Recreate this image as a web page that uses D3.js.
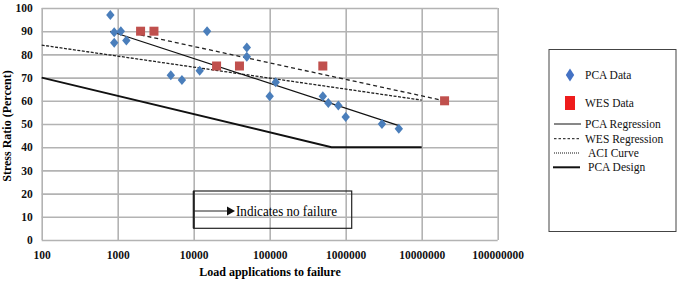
<!DOCTYPE html>
<html>
<head>
<meta charset="utf-8">
<script src="https://cdn.jsdelivr.net/npm/d3@7"></script>
<style>
  body { margin: 0; background: #fff; }
</style>
</head>
<body>
<div id="container"></div>
<script>
/* DATA */
const xTicks = [100, 1000, 10000, 100000, 1000000, 10000000, 100000000];
const yTicks = [0, 10, 20, 30, 40, 50, 60, 70, 80, 90, 100];

// PCA test data (load applications, stress ratio)
const pcaLoads  = [800, 900, 900, 1100, 1300, 5000, 7000, 12000, 15000, 50000, 50000, 100000, 120000, 500000, 590000, 800000, 1000000, 3000000, 5000000];
const pcaRatios = [97, 89.5, 85, 90, 86, 71, 69, 73, 90, 83, 79, 62, 68, 62, 59, 58, 53, 50, 48];

// WES test data
const wesLoads  = [2000, 3000, 20000, 40000, 500000, 20000000];
const wesRatios = [90, 90, 75, 75, 75, 60];

// lines
const pcaRegLoads = [800, 5000000],   pcaRegRatios = [90, 49.3];
const wesRegLoads = [2000, 20000000], wesRegRatios = [88.4, 60];
const aciLoads    = [100, 10000000],  aciRatios    = [84, 60.3];
const designLoads = [100, 650000, 10000000], designRatios = [70, 40, 40];

const legendLabels = ["PCA Data", "WES Data", "PCA Regression", "WES Regression", "ACI Curve", "PCA Design"];

/* SETUP */
const width = 685, height = 283;
const plot = {left: 41.7, right: 497.7, top: 8, bottom: 240};
const serif = "'Liberation Serif'";

const svg = d3.select("#container").append("svg")
  .attr("width", width).attr("height", height);

const xScale = d3.scaleLog().domain([100, 100000000]).range([plot.left, plot.right]);
const yScale = d3.scaleLinear().domain([0, 100]).range([plot.bottom, plot.top]);

const gridColor = "#b3b3b3";

// gridlines
svg.append("g")
  .attr("transform", `translate(0,${plot.bottom})`)
  .call(d3.axisBottom(xScale).tickValues(xTicks).tickSize(-(plot.bottom - plot.top)).tickFormat(""))
  .call(g => g.select(".domain").remove())
  .call(g => g.selectAll("line").attr("stroke", gridColor).attr("stroke-width", 1.6));

svg.append("g")
  .attr("transform", `translate(${plot.left},0)`)
  .call(d3.axisLeft(yScale).tickValues(yTicks).tickSize(-(plot.right - plot.left)).tickFormat(""))
  .call(g => g.select(".domain").remove())
  .call(g => g.selectAll("line").attr("stroke", gridColor).attr("stroke-width", 1.6));

// tick labels
svg.append("g")
  .attr("transform", `translate(0,${plot.bottom + 8})`)
  .call(d3.axisBottom(xScale).tickValues(xTicks).tickSize(0).tickFormat(d3.format("d")))
  .call(g => g.select(".domain").remove())
  .call(g => g.selectAll("text")
    .style("font-family", serif).attr("font-weight", "bold")
    .attr("font-size", 11.5).attr("fill", "#111"));

svg.append("g")
  .attr("transform", `translate(${plot.left - 6},0)`)
  .call(d3.axisLeft(yScale).tickValues(yTicks).tickSize(0))
  .call(g => g.select(".domain").remove())
  .call(g => g.selectAll("text")
    .style("font-family", serif).attr("font-weight", "bold")
    .attr("font-size", 11.5).attr("fill", "#111"));

// axis titles
svg.append("text")
  .attr("x", 270).attr("y", 276)
  .attr("text-anchor", "middle")
  .style("font-family", serif)
  .attr("font-weight", "bold").attr("font-size", 12)
  .text("Load applications to failure");

svg.append("text")
  .attr("transform", "translate(11,126) rotate(-90)")
  .attr("text-anchor", "middle")
  .style("font-family", serif)
  .attr("font-weight", "bold").attr("font-size", 12)
  .text("Stress Ratio (Percent)");

// lines
const line = d3.line().x(d => xScale(d[0])).y(d => yScale(d[1]));

svg.append("path")
  .datum(d3.zip(designLoads, designRatios))
  .attr("d", line).attr("fill", "none").attr("stroke", "#111").attr("stroke-width", 2);

svg.append("path")
  .datum(d3.zip(aciLoads, aciRatios))
  .attr("d", line).attr("fill", "none").attr("stroke", "#222").attr("stroke-width", 1.3)
  .attr("stroke-dasharray", "3,1.5");

svg.append("path")
  .datum(d3.zip(wesRegLoads, wesRegRatios))
  .attr("d", line).attr("fill", "none").attr("stroke", "#222").attr("stroke-width", 1.3)
  .attr("stroke-dasharray", "4,3");

svg.append("path")
  .datum(d3.zip(pcaRegLoads, pcaRegRatios))
  .attr("d", line).attr("fill", "none").attr("stroke", "#111").attr("stroke-width", 1.2);

// markers
const diamond = "M0,-5L4.2,0L0,5L-4.2,0Z";

svg.selectAll("path.pca")
  .data(d3.zip(pcaLoads, pcaRatios))
  .join("path")
  .attr("class", "pca")
  .attr("d", diamond)
  .attr("transform", d => `translate(${xScale(d[0])},${yScale(d[1])})`)
  .attr("fill", "#4a7ebb");

svg.selectAll("rect.wes")
  .data(d3.zip(wesLoads, wesRatios))
  .join("rect")
  .attr("class", "wes")
  .attr("x", d => xScale(d[0]) - 4.5)
  .attr("y", d => yScale(d[1]) - 4.5)
  .attr("width", 9).attr("height", 9)
  .attr("fill", "#c0504d");

// "indicates no failure" box
const note = svg.append("g");
note.append("rect")
  .attr("x", xScale(10000)).attr("y", 191)
  .attr("width", 351.7 - xScale(10000)).attr("height", 37.3)
  .attr("fill", "none").attr("stroke", "#222").attr("stroke-width", 1.2);
note.append("line")
  .attr("x1", xScale(10000)).attr("x2", xScale(10000))
  .attr("y1", 191).attr("y2", 228.3)
  .attr("stroke", "#222").attr("stroke-width", 2);
note.append("line")
  .attr("x1", xScale(10000)).attr("x2", 228)
  .attr("y1", 211).attr("y2", 211)
  .attr("stroke", "#222").attr("stroke-width", 1);
note.append("path")
  .attr("d", "M227,206.5L235,211L227,215.5Z")
  .attr("fill", "#111");
note.append("text")
  .attr("x", 236).attr("y", 216)
  .style("font-family", serif)
  .attr("font-size", 15)
  .attr("textLength", 101).attr("lengthAdjust", "spacingAndGlyphs")
  .text("Indicates no failure");

// legend
const legend = svg.append("g");
legend.append("rect")
  .attr("x", 549).attr("y", 49.5)
  .attr("width", 127).attr("height", 182)
  .attr("fill", "#fff").attr("stroke", "#444").attr("stroke-width", 1);

const legendY = [75, 103, 124, 138.7, 153, 167.3];
const legendTextX = [585, 585, 585, 585, 588, 588];

legend.append("path")
  .attr("d", "M0,-6.5L4.2,0L0,6.5L-4.2,0Z")
  .attr("transform", `translate(570,${legendY[0]})`)
  .attr("fill", "#4472c4");
legend.append("rect")
  .attr("x", 565).attr("y", legendY[1] - 7)
  .attr("width", 10).attr("height", 14)
  .attr("fill", "#ee1c1c");

const legendLines = [
  {i: 2, x1: 554, x2: 581, w: 1, dash: null},
  {i: 3, x1: 554, x2: 581, w: 1, dash: "2.5,2"},
  {i: 4, x1: 554, x2: 580, w: 1, dash: "1,1"},
  {i: 5, x1: 553, x2: 580, w: 2, dash: null}
];
legend.selectAll("line.key")
  .data(legendLines)
  .join("line")
  .attr("class", "key")
  .attr("x1", d => d.x1).attr("x2", d => d.x2)
  .attr("y1", d => legendY[d.i]).attr("y2", d => legendY[d.i])
  .attr("stroke", "#111").attr("stroke-width", d => d.w)
  .attr("stroke-dasharray", d => d.dash);

legend.selectAll("text")
  .data(legendLabels)
  .join("text")
  .attr("x", (d, i) => legendTextX[i])
  .attr("y", (d, i) => legendY[i] + 4)
  .style("font-family", serif)
  .attr("font-size", 11.5)
  .attr("fill", "#111")
  .text(d => d);
</script>
</body>
</html>
